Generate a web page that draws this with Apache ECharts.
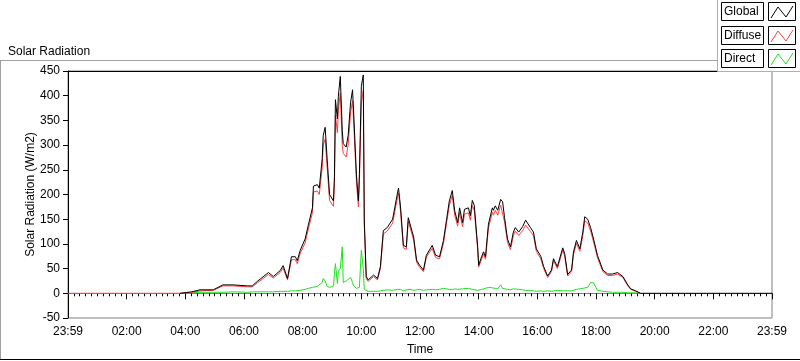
<!DOCTYPE html>
<html>
<head>
<meta charset="utf-8">
<script src="https://cdn.jsdelivr.net/npm/echarts@6.0.0/dist/echarts.min.js"></script>
<style>
  html, body { margin: 0; padding: 0; background: #fff; }
  #chart { width: 800px; height: 361px; }
</style>
</head>
<body>
<div id="chart"></div>
<script>
// minutes after 23:59 of the previous day
const minutes = [
  0, 229, 253, 270, 297, 317, 338, 367, 377, 387, 410, 420, 434, 440, 449, 457, 465, 469, 475, 485,
  492, 500, 502, 510, 514, 520, 522, 526, 530, 535, 543, 545, 547, 551, 553, 557, 561, 563, 569, 573,
  578, 582, 584, 590, 594, 596, 600, 604, 606, 610, 614, 625, 633, 639, 645, 653, 664, 668, 674, 676,
  680, 686, 692, 696, 700, 707, 713, 719, 727, 733, 737, 745, 752, 760, 768, 774, 780, 786, 791, 797,
  801, 807, 811, 819, 823, 827, 831, 838, 840, 846, 850, 854, 860, 868, 870, 874, 879, 885, 889, 893,
  899, 905, 911, 915, 922, 930, 936, 940, 946, 952, 958, 967, 973, 981, 989, 993, 1001, 1012, 1016, 1022,
  1030, 1034, 1040, 1047, 1053, 1057, 1063, 1069, 1075, 1083, 1094, 1104, 1114, 1124, 1135, 1145, 1151, 1161, 1171, 1440,
];

const globalRad = [
  null, 0, 3, 7, 7, 17, 17, 15, 15, 24, 42, 34, 46, 56, 30, 74, 74, 66, 87, 110,
  140, 173, 217, 220, 213, 273, 319, 336, 273, 200, 187, 237, 392, 353, 399, 439, 329, 303, 296, 319,
  386, 412, 373, 240, 187, 240, 419, 442, 150, 34, 27, 37, 30, 54, 127, 133, 150, 146, 203, 213,
  177, 97, 94, 153, 153, 114, 67, 57, 47, 77, 80, 97, 77, 74, 107, 147, 187, 208, 167, 143,
  173, 143, 170, 173, 157, 188, 178, 94, 57, 74, 84, 74, 140, 173, 168, 177, 168, 190, 185, 153,
  110, 94, 124, 133, 124, 135, 148, 148, 133, 124, 90, 75, 54, 35, 47, 70, 54, 92, 80, 38,
  47, 84, 107, 90, 124, 155, 150, 133, 110, 77, 47, 39, 39, 42, 34, 17, 9, 5, 0, 0,
];

const diffuseRad = [
  0, 0, 2, 5, 6, 15, 15, 13, 13, 21, 38, 31, 42, 51, 27, 68, 68, 60, 81, 102,
  132, 163, 205, 207, 200, 255, 300, 312, 255, 188, 176, 222, 360, 325, 370, 405, 300, 283, 276, 300,
  365, 390, 352, 225, 175, 225, 385, 410, 140, 30, 24, 34, 27, 50, 120, 126, 142, 138, 194, 203,
  168, 92, 89, 146, 145, 108, 63, 53, 44, 73, 75, 91, 72, 70, 101, 140, 178, 198, 158, 136,
  163, 135, 160, 163, 148, 178, 168, 88, 53, 69, 79, 69, 132, 164, 158, 168, 158, 178, 174, 144,
  103, 88, 117, 126, 117, 127, 138, 140, 125, 117, 85, 70, 50, 32, 44, 66, 50, 87, 75, 35,
  44, 79, 101, 85, 117, 147, 142, 126, 104, 72, 44, 36, 36, 39, 32, 15, 8, 4, 0, null,
];

const directRad = [
  null, null, 1, 2, 2, 2, 3, 2, 3, 3, 3, 3, 4, 4, 4, 5, 5, 5, 6, 8,
  10, 12, 12, 14, 15, 22, 30, 25, 14, 12, 15, 40, 60, 20, 45, 50, 94, 22, 25, 25,
  32, 22, 15, 10, 8, 12, 87, 50, 8, 5, 4, 4, 4, 5, 6, 7, 6, 7, 8, 6,
  8, 5, 7, 6, 8, 6, 7, 8, 6, 7, 9, 8, 7, 8, 10, 9, 8, 7, 9, 8,
  10, 9, 8, 10, 9, 8, 7, 6, 7, 8, 9, 10, 12, 11, 14, 10, 9, 17, 10, 12,
  8, 7, 9, 10, 8, 7, 6, 7, 6, 5, 4, 5, 4, 5, 4, 5, 6, 5, 6, 5,
  5, 6, 8, 9, 10, 12, 12, 22, 21, 6, 4, 3, 2, 2, 2, 1, 1, 1, 0, null,
];

const xTickLabels = [
  '23:59', '02:00', '04:00', '06:00', '08:00', '10:00', '12:00',
  '14:00', '16:00', '18:00', '20:00', '22:00', '23:59',
];

const seriesDefs = [
  {name: 'Global', values: globalRad, color: '#000000'},
  {name: 'Diffuse', values: diffuseRad, color: '#ff4040'},
  {name: 'Direct', values: directRad, color: '#1ee01e'},
];

const font = "'Liberation Sans', Arial, sans-serif";

// LabVIEW style plot legend: a name box and a swatch box per series
const legendGraphic = () => {
  const elements = [
    {type: 'rect', z: 100, shape: {x: 717.5, y: -1, width: 90, height: 72.5},
      style: {fill: '#fff', stroke: '#b0b0b0', lineWidth: 1}},
  ];
  seriesDefs.forEach((def, i) => {
    const top = Math.round(2 + i * 23.5);
    elements.push(
      {type: 'rect', z: 101, shape: {x: 721.5, y: top + 0.5, width: 42, height: 18},
        style: {fill: '#fff', stroke: '#000', lineWidth: 1}},
      {type: 'text', z: 102, x: 724, y: top + 10,
        style: {text: def.name, font: `12px ${font}`, fill: '#000', verticalAlign: 'middle'}},
      {type: 'rect', z: 101, shape: {x: 768.5, y: top + 0.5, width: 27, height: 18},
        style: {fill: '#fff', stroke: '#000', lineWidth: 1}},
      {type: 'polyline', z: 102,
        shape: {points: [[771, top + 16], [778, top + 5], [786, top + 15], [793, top + 4]]},
        style: {fill: null, stroke: def.color, lineWidth: 1}},
    );
  });
  return elements;
};

const chart = echarts.init(document.getElementById('chart'));

chart.setOption({
  animation: false,
  backgroundColor: '#fff',
  textStyle: {fontFamily: font},
  title: {
    text: 'Solar Radiation', left: 3, top: 41,
    textStyle: {fontSize: 12, fontWeight: 'normal', color: '#000', fontFamily: font},
  },
  grid: {left: 68, right: 28, top: 71, bottom: 39, show: true, borderColor: '#808080', borderWidth: 1},
  xAxis: [
    {
      type: 'value', min: 0, max: 1440, interval: 120,
      name: 'Time', nameLocation: 'middle', nameGap: 26, nameMoveOverlap: false,
      nameTextStyle: {fontSize: 12, color: '#000'},
      axisLine: {show: true, lineStyle: {color: '#808080'}},
      axisTick: {show: true, length: 6, lineStyle: {color: '#000'}},
      minorTick: {show: true, splitNumber: 10, length: 3, lineStyle: {color: '#000'}},
      splitLine: {show: false},
      axisLabel: {
        fontSize: 12, color: '#000', margin: 8, showMinLabel: true, showMaxLabel: true,
        formatter: (v) => xTickLabels[Math.round(v / 120)],
      },
    },
    {
      type: 'value', min: 0, max: 1440, position: 'top',
      axisLine: {show: true, lineStyle: {color: '#000'}},
      axisTick: {show: false}, axisLabel: {show: false}, splitLine: {show: false},
    },
  ],
  yAxis: {
    type: 'value', min: -50, max: 450, interval: 50,
    name: 'Solar Radiation (W/m2)', nameLocation: 'middle', nameGap: 31, nameMoveOverlap: false,
    nameTextStyle: {fontSize: 12, color: '#000'},
    axisLine: {show: true, lineStyle: {color: '#000'}},
    axisTick: {show: true, length: 5, lineStyle: {color: '#000'}},
    splitLine: {show: false},
    axisLabel: {fontSize: 12, color: '#000', margin: 8},
  },
  series: [...seriesDefs].reverse().map((def) => ({
    name: def.name,
    type: 'line',
    xAxisIndex: 0,
    showSymbol: false,
    connectNulls: false,
    lineStyle: {color: def.color, width: 1},
    itemStyle: {color: def.color},
    data: minutes.map((m, i) => [m, def.values[i]]),
  })),
  graphic: [
    {type: 'line', shape: {x1: 0, y1: 60.5, x2: 717, y2: 60.5}, style: {stroke: '#a0a0a0', lineWidth: 1}},
    {type: 'line', shape: {x1: 0.5, y1: 60, x2: 0.5, y2: 360}, style: {stroke: '#a0a0a0', lineWidth: 1}},
    {type: 'line', shape: {x1: 0, y1: 359.5, x2: 800, y2: 359.5}, style: {stroke: '#000', lineWidth: 1}},
    ...legendGraphic(),
  ],
});
</script>
</body>
</html>
